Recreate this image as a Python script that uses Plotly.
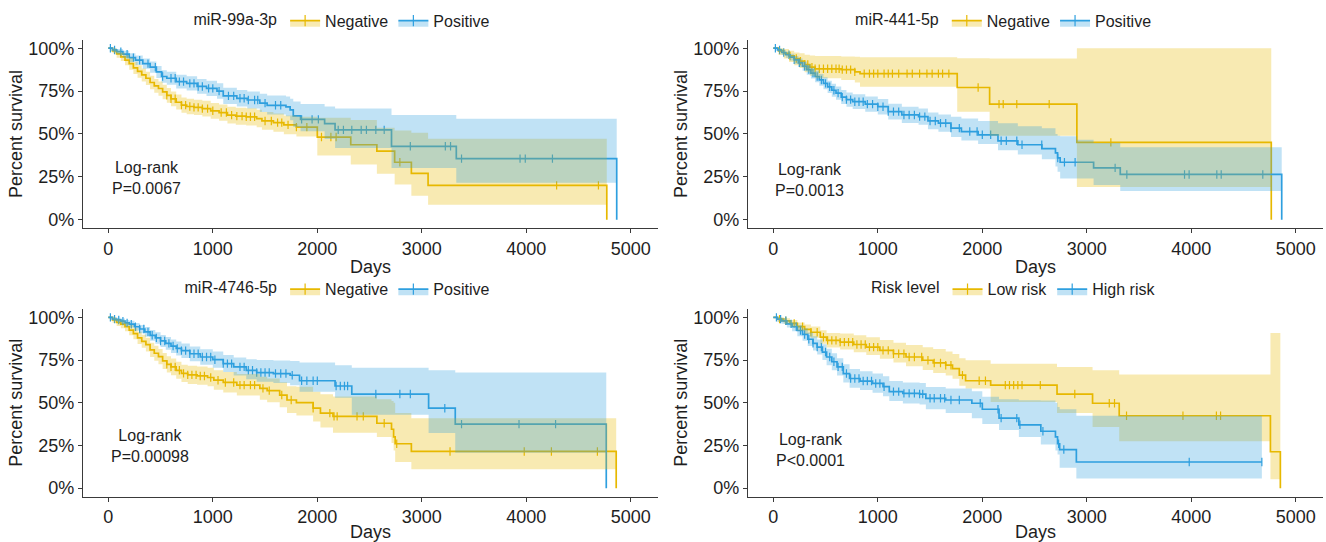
import plotly.graph_objects as go

YEL = "#E7B800"
BLU = "#2E9FDF"
YEL_FILL = "rgba(231,184,0,0.3)"
BLU_FILL = "rgba(46,159,223,0.3)"

x_ticks = [0, 1000, 2000, 3000, 4000, 5000]
y_ticks = [0, 0.25, 0.5, 0.75, 1.0]
y_ticktext = ["0%", "25%", "50%", "75%", "100%"]

panel_titles = ["miR-99a-3p", "miR-441-5p", "miR-4746-5p", "Risk level"]
group_names = [["Negative", "Positive"], ["Negative", "Positive"],
               ["Negative", "Positive"], ["Low risk", "High risk"]]
pvals = ["P=0.0067", "P=0.0013", "P=0.00098", "P<0.0001"]

# ---------------- Panel 1: miR-99a-3p ----------------
p1_neg_t = [0, 40, 80, 120, 160, 200, 240, 280, 320, 360, 400, 440, 480, 520, 560, 600, 650, 700, 750, 820,
            900, 980, 1060, 1140, 1220, 1320, 1420, 1470, 1580, 1680, 1800, 2000, 2320, 2570, 2740, 2900, 3060, 4770]
p1_neg_s = [1.0, .985, .967, .95, .93, .91, .885, .865, .845, .825, .80, .78, .765, .745, .725, .705, .685, .668, .66, .655,
            .648, .635, .625, .61, .604, .60, .59, .576, .566, .553, .540, .482, .437, .40, .335, .27, .20, 0.0]
p1_neg_hi = [1.0, 1.0, .985, .975, .96, .945, .92, .90, .882, .863, .84, .82, .806, .787, .768, .748, .73, .712, .705, .70,
             .693, .681, .672, .658, .653, .65, .641, .628, .619, .607, .60, .595, .582, .536, .52, .507, .472]
p1_neg_lo = [1.0, .97, .945, .925, .90, .875, .85, .828, .806, .785, .76, .74, .723, .703, .682, .662, .642, .624, .615, .61,
             .602, .588, .577, .561, .554, .55, .539, .524, .513, .499, .485, .375, .322, .268, .206, .139, .087]
p1_neg_cens = [560, 600, 640, 700, 740, 780, 820, 860, 900, 950, 1000, 1080, 1130, 1180, 1230, 1280, 1320, 1360, 1400,
               1500, 1560, 1620, 1660, 1720, 1800, 1900, 2040, 2130, 2180, 2790, 4290, 4690]

p1_pos_t = [0, 40, 80, 140, 200, 260, 330, 400, 460, 510, 560, 650, 750, 850, 940, 1040, 1100, 1230, 1330, 1450,
            1520, 1700, 1740, 1770, 1840, 2070, 2170, 2710, 3330, 4865]
p1_pos_s = [1.0, .99, .98, .965, .945, .93, .91, .89, .862, .835, .825, .805, .795, .777, .766, .75, .722, .708, .698, .68,
            .667, .658, .64, .605, .585, .56, .524, .428, .356, 0.0]
p1_pos_hi = [1.0, 1.0, .995, .985, .97, .958, .94, .922, .897, .872, .863, .845, .836, .82, .81, .795, .77, .757, .748, .735,
             .725, .718, .705, .69, .675, .66, .649, .611, .588]
p1_pos_lo = [1.0, .98, .965, .945, .92, .902, .88, .857, .827, .798, .787, .765, .754, .734, .722, .705, .675, .66, .648, .628,
             .614, .604, .58, .54, .516, .47, .418, .302, .216]
p1_pos_cens = [20, 60, 120, 180, 240, 300, 380, 450, 520, 600, 640, 680, 720, 780, 820, 860, 900, 960, 1000, 1060, 1150,
               1200, 1260, 1300, 1340, 1400, 1430, 1500, 1600, 1650, 1850, 1950, 2010, 2200, 2250, 2330, 2420, 2470,
               2560, 2640, 2890, 3225, 3275, 3380, 3940, 3990, 4250]

# ---------------- Panel 2: miR-441-5p ----------------
p2_neg_t = [0, 50, 100, 150, 200, 250, 300, 350, 400, 650, 780, 830, 1760, 2070, 2905, 4765]
p2_neg_s = [1.0, .985, .97, .955, .94, .925, .905, .89, .88, .875, .862, .852, .771, .674, .451, 0.0]
p2_neg_hi = [1.0, 1.0, .995, .985, .975, .97, .962, .958, .955, .952, .95, .948, .942, .94, 1.0]
p2_neg_lo = [1.0, .96, .94, .92, .90, .885, .86, .84, .825, .815, .80, .775, .63, .49, .19]
p2_neg_cens = [160, 220, 260, 300, 330, 370, 400, 440, 480, 520, 560, 600, 630, 660, 700, 740, 780, 870, 920, 960, 1000,
               1060, 1100, 1140, 1200, 1280, 1330, 1400, 1470, 1520, 1580, 1620, 1680, 1960, 2160, 2200, 2330, 2640, 3230]

p2_pos_t = [0, 40, 80, 120, 160, 200, 240, 280, 320, 360, 400, 440, 480, 520, 560, 600, 650, 700, 760, 880,
            1000, 1100, 1230, 1390, 1480, 1580, 1700, 1800, 1960, 2150, 2340, 2570, 2700, 2720, 2745, 2905, 3065, 3320, 4865]
p2_pos_s = [1.0, .99, .975, .962, .948, .932, .915, .895, .875, .855, .835, .815, .795, .775, .755, .738, .715, .70, .688, .674,
            .659, .63, .611, .601, .576, .563, .534, .514, .495, .46, .437, .414, .39, .36, .335, .335, .302, .264, 0.0]
p2_pos_hi = [1.0, 1.0, .99, .98, .968, .955, .94, .922, .905, .886, .868, .849, .83, .811, .793, .777, .756, .742, .731, .718,
             .704, .676, .658, .649, .625, .613, .60, .59, .575, .563, .545, .534, .50, .49, .486, .466, .447, .422]
p2_pos_lo = [1.0, .98, .96, .945, .928, .91, .89, .868, .845, .824, .802, .781, .76, .739, .717, .699, .674, .658, .645, .63,
             .614, .584, .564, .553, .527, .513, .483, .462, .442, .405, .38, .352, .31, .28, .241, .241, .202, .168]
p2_pos_cens = [20, 60, 100, 150, 200, 250, 300, 340, 380, 420, 460, 500, 540, 580, 620, 660, 700, 740, 780, 820, 860, 900,
               950, 1000, 1050, 1100, 1150, 1200, 1250, 1300, 1350, 1400, 1450, 1500, 1550, 1600, 1650, 1700, 1780, 1880,
               1950, 2000, 2080, 2180, 2230, 2330, 2380, 2569, 2722, 2786, 2888, 3271, 3383, 3935, 3979, 4244, 4286, 4684]

# ---------------- Panel 3: miR-4746-5p ----------------
p3_neg_t = [0, 40, 80, 120, 160, 200, 240, 280, 320, 360, 400, 440, 480, 520, 560, 600, 650, 700, 760, 850,
            950, 1010, 1100, 1230, 1450, 1520, 1640, 1710, 1800, 1960, 2030, 2150, 2570, 2710, 2730, 2745, 2900, 4860]
p3_neg_s = [1.0, .985, .971, .96, .945, .925, .905, .88, .86, .84, .81, .79, .77, .745, .725, .71, .69, .672, .663, .657,
            .648, .632, .619, .603, .584, .571, .545, .516, .501, .468, .439, .42, .38, .345, .30, .26, .215, 0.0]
p3_neg_hi = [1.0, 1.0, .99, .982, .97, .955, .938, .916, .898, .88, .852, .834, .815, .792, .773, .759, .74, .723, .716, .712,
             .705, .69, .68, .668, .652, .642, .62, .596, .594, .565, .55, .536, .52, .51, .50, .44, .41]
p3_neg_lo = [1.0, .968, .95, .937, .918, .895, .872, .844, .822, .80, .768, .746, .725, .698, .677, .661, .64, .621, .61, .606,
             .596, .576, .56, .542, .517, .503, .474, .44, .425, .39, .355, .325, .30, .265, .22, .153, .11]
p3_neg_cens = [560, 600, 640, 680, 720, 760, 800, 840, 880, 920, 980, 1050, 1120, 1200, 1260, 1300, 1360, 1400, 1480,
               1540, 1660, 1750, 1960, 2120, 2160, 2190, 2380, 2440, 2640, 2760, 3270, 3980, 4240, 4680]

p3_pos_t = [0, 40, 80, 120, 160, 200, 250, 300, 350, 400, 450, 500, 550, 600, 650, 700, 780, 880, 1000, 1100,
            1200, 1320, 1420, 1580, 1740, 1830, 2170, 2330, 3065, 3320, 4765]
p3_pos_s = [1.0, .99, .985, .978, .968, .96, .945, .932, .915, .895, .88, .862, .848, .832, .818, .805, .787, .768, .752, .729,
            .71, .69, .677, .671, .661, .629, .598, .551, .468, .375, 0.0]
p3_pos_hi = [1.0, 1.0, .998, .993, .985, .98, .967, .956, .943, .926, .913, .897, .885, .871, .858, .847, .83, .814, .80, .779,
             .765, .755, .75, .748, .745, .735, .72, .705, .69, .677]
p3_pos_lo = [1.0, .98, .972, .962, .95, .94, .922, .907, .886, .863, .846, .826, .81, .792, .777, .762, .743, .722, .705, .68,
             .659, .637, .623, .615, .603, .565, .53, .43, .323, .207]
p3_pos_cens = [20, 60, 100, 140, 180, 220, 260, 300, 340, 380, 420, 460, 500, 540, 580, 620, 660, 700, 740, 780, 820, 860,
               900, 940, 980, 1020, 1100, 1140, 1180, 1260, 1300, 1340, 1380, 1420, 1460, 1500, 1540, 1600, 1650, 1700,
               1760, 1850, 1900, 1960, 2000, 2180, 2220, 2260, 2290, 2560, 2790, 2890, 3220, 3380, 3930, 4280]

# ---------------- Panel 4: Risk level ----------------
p4_low_t = [0, 40, 100, 160, 230, 300, 360, 450, 510, 640, 770, 890, 1020, 1150, 1270, 1430, 1530, 1650, 1715, 1780,
            1840, 2080, 2715, 3055, 3310, 4757, 4852]
p4_low_s = [1.0, .99, .98, .965, .946, .93, .913, .884, .865, .855, .841, .826, .807, .787, .768, .749, .733, .72, .70, .662,
            .629, .603, .551, .497, .424, .213, 0.0]
p4_low_hi = [1.0, 1.0, .995, .985, .97, .958, .946, .924, .909, .905, .895, .883, .868, .852, .838, .825, .815, .80, .785, .76,
             .749, .729, .71, .69, .665, .909]
p4_low_lo = [1.0, .975, .962, .945, .922, .902, .88, .845, .823, .812, .796, .779, .757, .735, .714, .692, .674, .66, .64, .60,
             .584, .505, .44, .358, .275, .052]
p4_low_cens = [60, 120, 200, 280, 360, 420, 480, 520, 560, 600, 640, 680, 720, 760, 800, 840, 880, 920, 960, 1000, 1050,
               1100, 1150, 1200, 1250, 1300, 1350, 1420, 1480, 1540, 1600, 1650, 1700, 1810, 1970, 2030, 2220, 2260,
               2300, 2340, 2380, 2555, 2885, 3215, 3265, 3380, 3920, 4240, 4280]

p4_high_t = [0, 40, 80, 130, 180, 230, 280, 330, 380, 420, 470, 510, 560, 610, 670, 730, 830, 950, 1050, 1110,
             1240, 1400, 1460, 1650, 1900, 2000, 2160, 2350, 2560, 2700, 2720, 2740, 2900, 4675]
p4_high_s = [1.0, .99, .98, .962, .945, .923, .90, .872, .848, .826, .797, .768, .74, .71, .671, .642, .627, .613, .594, .565,
             .555, .551, .526, .516, .497, .462, .41, .371, .333, .30, .26, .226, .153, .153]
p4_high_hi = [1.0, 1.0, .995, .985, .972, .956, .937, .912, .89, .87, .843, .816, .79, .761, .725, .698, .685, .672, .655, .627,
              .618, .615, .592, .583, .567, .535, .52, .515, .513, .50, .475, .462, .424]
p4_high_lo = [1.0, .975, .962, .94, .918, .89, .863, .832, .806, .782, .751, .72, .69, .659, .618, .588, .575, .558, .538, .51,
              .496, .49, .462, .44, .41, .375, .34, .30, .255, .22, .197, .12, .056]
p4_high_cens = [30, 70, 120, 170, 220, 260, 300, 340, 380, 420, 460, 500, 540, 580, 620, 660, 700, 740, 780, 820, 860, 900,
                940, 980, 1020, 1060, 1150, 1200, 1250, 1300, 1350, 1400, 1430, 1500, 1540, 1600, 1640, 1700, 1780, 1980,
                2150, 2180, 2330, 2360, 2580, 2730, 2780, 3980, 4675]

panels = [
    [(p1_neg_t, p1_neg_s, p1_neg_hi, p1_neg_lo, p1_neg_cens), (p1_pos_t, p1_pos_s, p1_pos_hi, p1_pos_lo, p1_pos_cens)],
    [(p2_neg_t, p2_neg_s, p2_neg_hi, p2_neg_lo, p2_neg_cens), (p2_pos_t, p2_pos_s, p2_pos_hi, p2_pos_lo, p2_pos_cens)],
    [(p3_neg_t, p3_neg_s, p3_neg_hi, p3_neg_lo, p3_neg_cens), (p3_pos_t, p3_pos_s, p3_pos_hi, p3_pos_lo, p3_pos_cens)],
    [(p4_low_t, p4_low_s, p4_low_hi, p4_low_lo, p4_low_cens), (p4_high_t, p4_high_s, p4_high_hi, p4_high_lo, p4_high_cens)],
]

# ---------------- layout geometry ----------------
W, H = 1326, 542
x_domains = [[83 / W, 658 / W], [748 / W, 1323 / W], [83 / W, 658 / W], [748 / W, 1323 / W]]
y_domains = [[1 - 229.4 / H, 1 - 39.0 / H], [1 - 229.4 / H, 1 - 39.0 / H],
             [1 - 500.3 / H, 1 - 310.7 / H], [1 - 500.3 / H, 1 - 310.7 / H]]
legend_pos = [(0.259, 1 - 20 / H), (0.758, 1 - 20 / H), (0.2553, 1 - 291 / H), (0.7655, 1 - 291 / H)]
annot_pos = [(366, 0.244), (347, 0.232), (399, 0.245), (360, 0.222)]

FONT = "Liberation Sans, Arial, Helvetica, sans-serif"
TXT = "#1e1e1e"


def step_value(t, s, c):
    v = s[0]
    for ti, si in zip(t, s):
        if ti <= c:
            v = si
        else:
            break
    return v


fig = go.Figure()
colors = [(YEL, YEL_FILL), (BLU, BLU_FILL)]

for p, groups in enumerate(panels):
    xa = "x" if p == 0 else f"x{p + 1}"
    ya = "y" if p == 0 else f"y{p + 1}"
    leg = "legend" if p == 0 else f"legend{p + 1}"
    # curves + censor marks
    for g, (t, s, hi, lo, cens) in enumerate(groups):
        col, _ = colors[g]
        fig.add_trace(go.Scatter(x=t, y=s, mode="lines", line=dict(color=col, width=1.7, shape="hv"),
                                 xaxis=xa, yaxis=ya, showlegend=False, hoverinfo="skip"))
        fig.add_trace(go.Scatter(x=cens, y=[step_value(t, s, c) for c in cens], mode="markers",
                                 marker=dict(symbol="line-ns", size=6, color=col, line=dict(color=col, width=1.2)),
                                 xaxis=xa, yaxis=ya, showlegend=False, hoverinfo="skip"))
    # confidence ribbons
    for g, (t, s, hi, lo, cens) in enumerate(groups):
        col, fcol = colors[g]
        lo_y = lo + [lo[-1]]
        hi_y = hi + [hi[-1]]
        fig.add_trace(go.Scatter(x=t, y=lo_y, mode="lines", line=dict(width=0, shape="hv", color=fcol),
                                 xaxis=xa, yaxis=ya, showlegend=False, hoverinfo="skip"))
        fig.add_trace(go.Scatter(x=t, y=hi_y, mode="lines", line=dict(width=0, shape="hv", color=fcol),
                                 fill="tonexty", fillcolor=fcol,
                                 xaxis=xa, yaxis=ya, showlegend=False, hoverinfo="skip"))
    # legend entries
    for g in range(2):
        col, fcol = colors[g]
        fig.add_trace(go.Scatter(x=[None], y=[None], mode="lines+markers", name=group_names[p][g],
                                 line=dict(color=col, width=1.7),
                                 marker=dict(symbol="line-ns", size=8, color=col, line=dict(color=col, width=1.2)),
                                 fill="toself", fillcolor=fcol,
                                 xaxis=xa, yaxis=ya, legend=leg, showlegend=True))

layout = dict(
    width=W, height=H,
    margin=dict(l=0, r=0, t=0, b=0),
    paper_bgcolor="white", plot_bgcolor="white",
    font=dict(family=FONT, color=TXT),
    showlegend=True,
)

axis_style = dict(showline=True, linecolor="#3a3a3a", linewidth=1.3, ticks="outside", ticklen=4, tickwidth=1.2,
                  tickcolor="#3a3a3a", showgrid=False, zeroline=False, tickfont=dict(size=18, color=TXT),
                  fixedrange=True)

annotations = []
for p in range(4):
    xk = "xaxis" if p == 0 else f"xaxis{p + 1}"
    yk = "yaxis" if p == 0 else f"yaxis{p + 1}"
    xa = "x" if p == 0 else f"x{p + 1}"
    ya = "y" if p == 0 else f"y{p + 1}"
    layout[xk] = dict(axis_style, domain=x_domains[p], anchor=ya, range=[-242, 5260], tickvals=x_ticks,
                      title=dict(text="Days", font=dict(size=18, color=TXT), standoff=2))
    layout[yk] = dict(axis_style, domain=y_domains[p], anchor=xa, range=[-0.05, 1.05], tickvals=y_ticks,
                      ticktext=y_ticktext, title=dict(text="Percent survival", font=dict(size=18, color=TXT), standoff=0))
    lk = "legend" if p == 0 else f"legend{p + 1}"
    layout[lk] = dict(x=legend_pos[p][0], y=legend_pos[p][1], xanchor="center", yanchor="middle",
                      orientation="h", bgcolor="rgba(0,0,0,0)", font=dict(size=16, color=TXT),
                      title=dict(text=panel_titles[p], font=dict(size=16, color=TXT)),
                      itemwidth=30, tracegroupgap=0, traceorder="normal")
    annotations.append(dict(x=annot_pos[p][0], y=annot_pos[p][1], xref=xa, yref=ya, showarrow=False,
                            text="Log-rank<br>" + pvals[p], align="center",
                            font=dict(size=16, color=TXT), xanchor="center", yanchor="middle"))

layout["annotations"] = annotations
fig.update_layout(**layout)

fig.write_html("out.html", config={"displayModeBar": False},
               post_script="document.body.style.margin='0px';document.body.style.overflow='hidden';")
